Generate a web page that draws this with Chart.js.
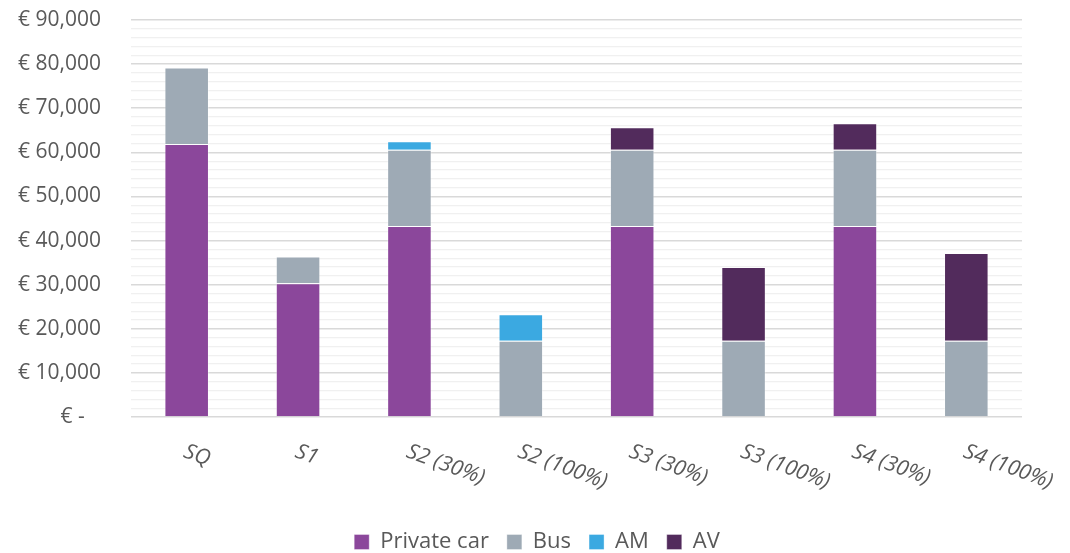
<!DOCTYPE html>
<html>
<head>
<meta charset="utf-8">
<script src="https://cdn.jsdelivr.net/npm/chart.js@4"></script>
<style>
  html, body { margin: 0; padding: 0; background: #fff; }
  #wrap { width: 1070px; height: 553px; }
</style>
</head>
<body>
<div id="wrap"><canvas id="chart"></canvas></div>
<script>
const categories = ["SQ", "S1", "S2 (30%)", "S2 (100%)", "S3 (30%)", "S3 (100%)", "S4 (30%)", "S4 (100%)"];
const privateCar = [61900, 30300, 43300, 0, 43300, 0, 43300, 0];
const bus = [17350, 6100, 17300, 17300, 17300, 17300, 17300, 17300];
const am = [0, 0, 1900, 6000, 0, 0, 0, 0];
const av = [0, 0, 0, 0, 5100, 16700, 6000, 19900];

const textColor = "#595959";
const fontFamily = "'Open Sans', 'Noto Sans', sans-serif";

// x labels are rotated clockwise in the original, Chart.js only rotates the other way
const slantedLabels = {
  id: "slantedLabels",
  afterDraw(chart) {
    const ctx = chart.ctx;
    const xScale = chart.scales.x;
    const y0 = chart.chartArea.bottom;
    ctx.save();
    ctx.fillStyle = textColor;
    ctx.font = "italic 21.5px " + fontFamily;
    ctx.textAlign = "left";
    ctx.textBaseline = "middle";
    categories.forEach((lab, i) => {
      const x = xScale.getPixelForValue(i);
      ctx.save();
      ctx.translate(x - 2, y0 + 34);
      ctx.rotate(20 * Math.PI / 180);
      ctx.fillText(lab, 0, 0);
      ctx.restore();
    });
    ctx.restore();
  }
};

function ds(label, values, color) {
  return {
    label: label,
    data: values,
    backgroundColor: color,
    borderColor: "rgba(255,255,255,0.35)",
    borderWidth: 1,
    barPercentage: 0.4,
    categoryPercentage: 1.0
  };
}

new Chart(document.getElementById("chart"), {
  type: "bar",
  data: {
    labels: categories,
    datasets: [
      ds("Private car", privateCar, "#8b479b"),
      ds("Bus", bus, "#9eaab5"),
      ds("AM", am, "#3ba9e1"),
      ds("AV", av, "#522b5c")
    ]
  },
  options: {
    responsive: true,
    maintainAspectRatio: false,
    animation: false,
    layout: { padding: { top: 20, right: 0, bottom: -10, left: 4 } },
    plugins: {
      tooltip: { enabled: false },
      legend: {
        position: "bottom",
        labels: {
          color: textColor,
          font: { family: fontFamily, size: 22 },
          boxWidth: 15,
          boxHeight: 15,
          padding: 18
        }
      }
    },
    scales: {
      x: {
        stacked: true,
        grid: { display: false },
        border: { display: false },
        ticks: { display: false },
        afterFit: (scale) => { scale.height = 96; }
      },
      y: {
        stacked: true,
        min: 0,
        max: 90000,
        afterFit: (scale) => {
          scale.width = 127;
          scale.paddingTop = 0;
          scale.paddingBottom = 0;
        },
        border: { display: false },
        grid: {
          drawTicks: false,
          color: (c) => (c.tick && c.tick.value % 10000 === 0) ? "#d9d9d9" : "#f0f0f0",
          lineWidth: (c) => (c.tick && c.tick.value % 10000 === 0) ? 1.5 : 1.2
        },
        ticks: {
          stepSize: 2000,
          autoSkip: false,
          padding: 30,
          color: textColor,
          font: { family: fontFamily, size: 21 },
          callback: (v) => {
            if (v % 10000 !== 0) return "";
            if (v === 0) return "€ -   ";
            return "€ " + v.toLocaleString("en-US");
          }
        }
      },
      // empty right margin, keeps the legend centred on the whole canvas
      yRight: {
        type: "linear",
        position: "right",
        display: true,
        grid: { display: false },
        border: { display: false },
        ticks: { display: false },
        afterFit: (scale) => {
          scale.width = 48;
          scale.paddingTop = 0;
          scale.paddingBottom = 0;
        }
      }
    }
  },
  plugins: [slantedLabels]
});
</script>
</body>
</html>
